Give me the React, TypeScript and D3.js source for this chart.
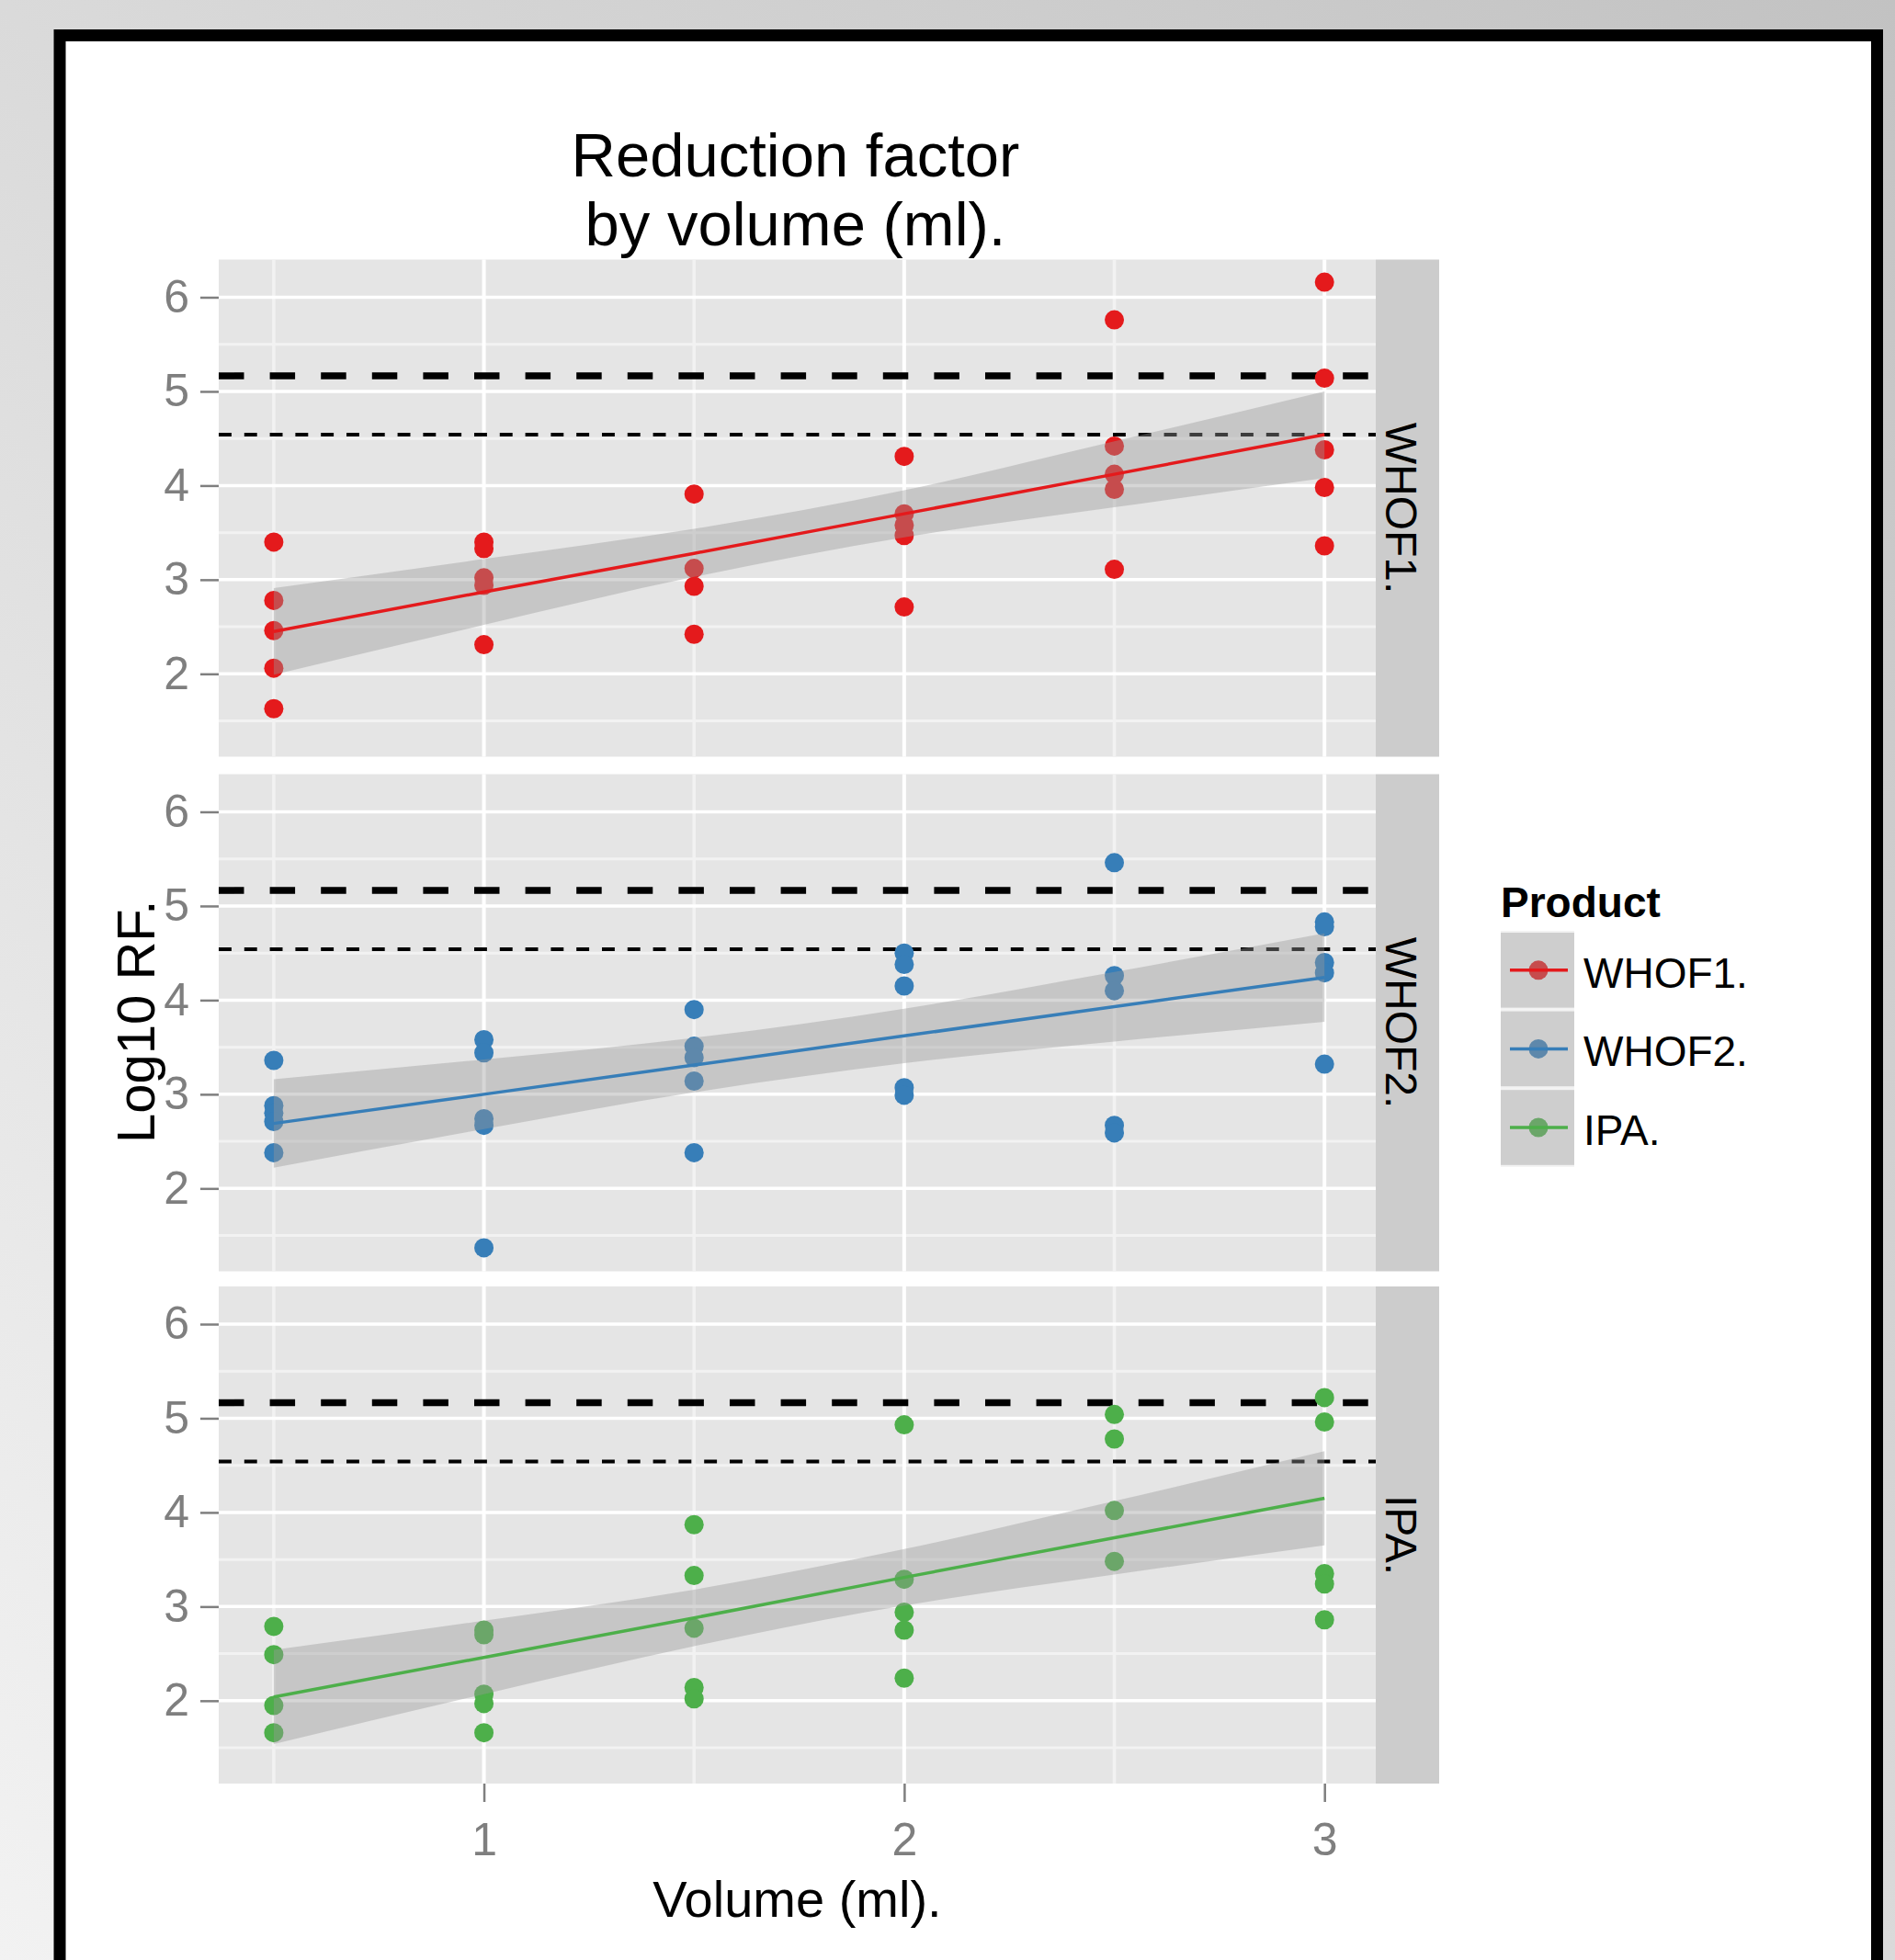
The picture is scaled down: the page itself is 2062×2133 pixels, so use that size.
import { useEffect, useRef } from 'react';
import * as d3 from 'd3';

const WIDTH = 2062;
const HEIGHT = 2133;

// Volumes tested (ml) and the three products (one facet each)
const volumes = [0.5, 1, 1.5, 2, 2.5, 3];
const products = ['WHOF1.', 'WHOF2.', 'IPA.'];
const productColors = ['#E41A1C', '#377EB8', '#4DAF4A'];

// Log10 RF replicates at each volume
const whof1Values = [
  [3.40, 2.78, 2.46, 2.06, 1.63],
  [3.40, 3.33, 3.02, 2.94, 2.31],
  [3.91, 3.12, 2.93, 2.42],
  [4.31, 3.70, 3.58, 3.47, 2.71],
  [5.76, 4.42, 4.12, 3.96, 3.11],
  [6.16, 5.14, 4.38, 3.98, 3.36],
];
const whof2Values = [
  [3.36, 2.88, 2.80, 2.71, 2.38],
  [3.58, 3.44, 2.74, 2.67, 1.37],
  [3.90, 3.51, 3.39, 3.14, 2.38],
  [4.50, 4.38, 4.15, 3.07, 2.99],
  [5.46, 4.26, 4.10, 2.67, 2.59],
  [4.83, 4.78, 4.40, 4.29, 3.32],
];
const ipaValues = [
  [2.79, 2.49, 1.95, 1.66],
  [2.75, 2.70, 2.07, 1.97, 1.66],
  [3.87, 3.33, 2.77, 2.14, 2.02],
  [4.93, 3.29, 2.94, 2.75, 2.24],
  [5.04, 4.78, 4.02, 3.48],
  [5.22, 4.96, 3.35, 3.24, 2.86],
];

// linear fit and its confidence band at each volume
const whof1Fit = [2.45, 2.87, 3.28, 3.70, 4.12, 4.54];
const whof1Lower = [1.99, 2.52, 3.03, 3.45, 3.77, 4.08];
const whof1Upper = [2.91, 3.22, 3.54, 3.95, 4.47, 5.00];

const whof2Fit = [2.69, 3.00, 3.31, 3.62, 3.93, 4.24];
const whof2Lower = [2.22, 2.63, 3.02, 3.33, 3.56, 3.77];
const whof2Upper = [3.16, 3.37, 3.60, 3.91, 4.30, 4.71];

const ipaFit = [2.04, 2.46, 2.88, 3.31, 3.73, 4.15];
const ipaLower = [1.54, 2.07, 2.58, 3.01, 3.34, 3.65];
const ipaUpper = [2.54, 2.85, 3.18, 3.61, 4.12, 4.65];

// axis ticks and the two reference levels
const yTicks = [2, 3, 4, 5, 6];
const yMinorTicks = [1.5, 2.5, 3.5, 4.5, 5.5];
const xTicks = [1, 2, 3];
const xMinorTicks = [0.5, 1.5, 2.5];
const upperLimit = 5.165;
const lowerLimit = 4.54;

const FONT = '"Liberation Sans", Arial, Helvetica, sans-serif';

const ReductionChart = () => {
  const svgRef = useRef<SVGSVGElement>(null);

  useEffect(() => {
    if (!svgRef.current) return;

    const svg = d3.select(svgRef.current);
    svg.selectAll('*').remove();

    const panels = [
      { values: whof1Values, fit: whof1Fit, lower: whof1Lower, upper: whof1Upper },
      { values: whof2Values, fit: whof2Fit, lower: whof2Lower, upper: whof2Upper },
      { values: ipaValues, fit: ipaFit, lower: ipaLower, upper: ipaUpper },
    ];

    // page background + framed white card
    const defs = svg.append('defs');
    const grad = defs.append('linearGradient')
      .attr('id', 'bg-grad')
      .attr('x1', 0).attr('y1', 1).attr('x2', 1).attr('y2', 0);
    grad.append('stop').attr('offset', '0%').attr('stop-color', '#f2f2f2');
    grad.append('stop').attr('offset', '100%').attr('stop-color', '#c2c2c2');

    svg.append('rect')
      .attr('width', WIDTH)
      .attr('height', HEIGHT)
      .attr('fill', 'url(#bg-grad)');

    svg.append('rect')
      .attr('x', 65)
      .attr('y', 38.5)
      .attr('width', 1977.5)
      .attr('height', 2300)
      .attr('fill', '#ffffff')
      .attr('stroke', '#000000')
      .attr('stroke-width', 13);

    const panelLeft = 238;
    const panelRight = 1497;
    const stripRight = 1566;
    const panelHeight = 541;
    const panelTops = [282.5, 842.5, 1400];

    const x = d3.scaleLinear().domain([0.369, 3.122]).range([panelLeft, panelRight]);

    panelTops.forEach((top, i) => {
      const panel = panels[i];
      const color = productColors[i];
      const y = d3.scaleLinear().domain([1.12, 6.4]).range([top + panelHeight, top]);
      const g = svg.append('g');

      g.append('rect')
        .attr('x', panelLeft)
        .attr('y', top)
        .attr('width', panelRight - panelLeft)
        .attr('height', panelHeight)
        .attr('fill', '#E5E5E5');

      // strip
      g.append('rect')
        .attr('x', panelRight)
        .attr('y', top)
        .attr('width', stripRight - panelRight)
        .attr('height', panelHeight)
        .attr('fill', '#CCCCCC');

      g.append('text')
        .attr('transform', `translate(1508,${top + panelHeight / 2}) rotate(90)`)
        .attr('text-anchor', 'middle')
        .attr('font-family', FONT)
        .attr('font-size', 48)
        .attr('fill', '#000')
        .text(products[i]);

      // minor grid
      g.selectAll('.hminor')
        .data(yMinorTicks)
        .join('line')
        .attr('x1', panelLeft).attr('x2', panelRight)
        .attr('y1', d => y(d)).attr('y2', d => y(d))
        .attr('stroke', '#F2F2F2')
        .attr('stroke-width', 3);

      g.selectAll('.vminor')
        .data(xMinorTicks)
        .join('line')
        .attr('x1', d => x(d)).attr('x2', d => x(d))
        .attr('y1', top).attr('y2', top + panelHeight)
        .attr('stroke', '#F2F2F2')
        .attr('stroke-width', 3.5);

      // major grid
      g.selectAll('.hmajor')
        .data(yTicks)
        .join('line')
        .attr('x1', panelLeft).attr('x2', panelRight)
        .attr('y1', d => y(d)).attr('y2', d => y(d))
        .attr('stroke', '#FFFFFF')
        .attr('stroke-width', 3.5);

      g.selectAll('.vmajor')
        .data(xTicks)
        .join('line')
        .attr('x1', d => x(d)).attr('x2', d => x(d))
        .attr('y1', top).attr('y2', top + panelHeight)
        .attr('stroke', '#FFFFFF')
        .attr('stroke-width', 4);

      // reference levels
      g.append('line')
        .attr('x1', panelLeft).attr('x2', panelRight)
        .attr('y1', y(upperLimit)).attr('y2', y(upperLimit))
        .attr('stroke', '#000')
        .attr('stroke-width', 7.5)
        .attr('stroke-dasharray', '27.5 28.1');

      g.append('line')
        .attr('x1', panelLeft).attr('x2', panelRight)
        .attr('y1', y(lowerLimit)).attr('y2', y(lowerLimit))
        .attr('stroke', '#000')
        .attr('stroke-width', 4)
        .attr('stroke-dasharray', '13.9 13.9');

      // points
      const pts = panel.values.flatMap((vals, vi) => vals.map(v => ({ vol: volumes[vi], v })));
      g.selectAll('.pt')
        .data(pts)
        .join('circle')
        .attr('cx', d => x(d.vol))
        .attr('cy', d => y(d.v))
        .attr('r', 10.5)
        .attr('fill', color);

      // smoother band + line
      const band = volumes.map((vol, k) => ({
        vol,
        fit: panel.fit[k],
        lo: panel.lower[k],
        hi: panel.upper[k],
      }));

      const area = d3.area<typeof band[number]>()
        .x(d => x(d.vol))
        .y0(d => y(d.lo))
        .y1(d => y(d.hi))
        .curve(d3.curveMonotoneX);

      g.append('path')
        .datum(band)
        .attr('fill', '#999999')
        .attr('fill-opacity', 0.4)
        .attr('d', area);

      const line = d3.line<typeof band[number]>()
        .x(d => x(d.vol))
        .y(d => y(d.fit));

      g.append('path')
        .datum(band)
        .attr('fill', 'none')
        .attr('stroke', color)
        .attr('stroke-width', 3.5)
        .attr('d', line);

      // y axis
      const yAxis = g.append('g')
        .attr('transform', `translate(${panelLeft},0)`)
        .call(d3.axisLeft(y).tickValues(yTicks).tickSize(20).tickPadding(12).tickFormat(d3.format('d')));
      yAxis.select('.domain').remove();
      yAxis.selectAll('line').attr('stroke', '#7F7F7F').attr('stroke-width', 2.5);
      yAxis.selectAll('text')
        .attr('font-family', FONT)
        .attr('font-size', 50)
        .attr('fill', '#7F7F7F');

      // x axis only under last panel
      if (i === panelTops.length - 1) {
        const xAxis = g.append('g')
          .attr('transform', `translate(0,${top + panelHeight})`)
          .call(d3.axisBottom(x).tickValues(xTicks).tickSize(20).tickPadding(22).tickFormat(d3.format('d')));
        xAxis.select('.domain').remove();
        xAxis.selectAll('line').attr('stroke', '#7F7F7F').attr('stroke-width', 2.5);
        xAxis.selectAll('text')
          .attr('font-family', FONT)
          .attr('font-size', 50)
          .attr('fill', '#7F7F7F');
      }
    });

    const plotCenterX = (panelLeft + panelRight) / 2;

    // titles
    const title = svg.append('text')
      .attr('text-anchor', 'middle')
      .attr('font-family', FONT)
      .attr('font-size', 67)
      .attr('fill', '#000');
    title.append('tspan').attr('x', plotCenterX - 2).attr('y', 191.5).text('Reduction factor');
    title.append('tspan').attr('x', plotCenterX - 2).attr('y', 266.5).text('by volume (ml).');

    svg.append('text')
      .attr('x', plotCenterX)
      .attr('y', 2086)
      .attr('text-anchor', 'middle')
      .attr('font-family', FONT)
      .attr('font-size', 56)
      .attr('fill', '#000')
      .text('Volume (ml).');

    svg.append('text')
      .attr('transform', `translate(168,${(panelTops[0] + panelTops[2] + panelHeight) / 2}) rotate(-90)`)
      .attr('text-anchor', 'middle')
      .attr('font-family', FONT)
      .attr('font-size', 58)
      .attr('fill', '#000')
      .text('Log10 RF.');

    // legend
    const legend = svg.append('g');
    legend.append('text')
      .attr('x', 1633)
      .attr('y', 998)
      .attr('font-family', FONT)
      .attr('font-size', 46)
      .attr('font-weight', 'bold')
      .attr('fill', '#000')
      .text('Product');

    const keyTop = 1013;
    const keyH = 85.6;
    const keyLeft = 1633;
    const keyW = 80;

    products.forEach((name, i) => {
      const ky = keyTop + i * keyH;
      const cy = ky + keyH / 2;
      legend.append('rect')
        .attr('x', keyLeft).attr('y', ky)
        .attr('width', keyW).attr('height', keyH)
        .attr('fill', '#F2F2F2');
      legend.append('circle')
        .attr('cx', keyLeft + keyW / 2 + 1)
        .attr('cy', cy)
        .attr('r', 10.5)
        .attr('fill', productColors[i]);
      legend.append('rect')
        .attr('x', keyLeft).attr('y', ky + 2)
        .attr('width', keyW).attr('height', keyH - 4)
        .attr('fill', '#999999')
        .attr('fill-opacity', 0.4);
      legend.append('line')
        .attr('x1', keyLeft + 10).attr('x2', keyLeft + 73)
        .attr('y1', cy).attr('y2', cy)
        .attr('stroke', productColors[i])
        .attr('stroke-width', 3.5);
      legend.append('text')
        .attr('x', 1723)
        .attr('y', cy + 19)
        .attr('font-family', FONT)
        .attr('font-size', 46)
        .attr('fill', '#000')
        .text(name);
    });
  }, []);

  return <svg ref={svgRef} width={WIDTH} height={HEIGHT} style={{ display: 'block' }} />;
};

export default function App() {
  return (
    <>
      <style>{'body{margin:0}'}</style>
      <ReductionChart />
    </>
  );
}
